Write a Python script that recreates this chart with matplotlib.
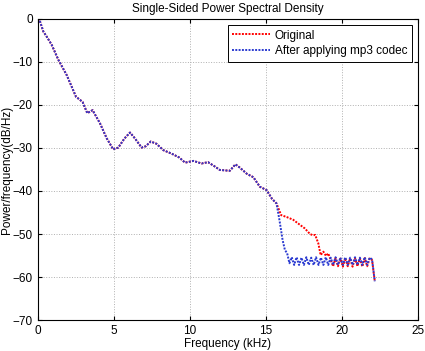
import matplotlib.pyplot as plt

# part of the curve where both spectra overlap (kHz, dB/Hz)
f_common = [0.0, 0.1, 0.37, 0.59, 0.92, 1.36, 1.9, 2.23, 2.52, 2.78, 2.95, 3.26, 3.61,
            4.1, 4.53, 4.96, 5.3, 5.7, 6.07, 6.4, 6.83, 7.1, 7.43, 7.8, 8.26, 8.8,
            9.3, 9.69, 10.24, 10.77, 11.2, 11.6, 11.97, 12.3, 12.63, 13.0, 13.3,
            13.75, 14.18, 14.6, 15.05, 15.4, 15.7]
p_common = [-1.0, 0.0, -2.9, -4.1, -6.0, -9.5, -13.0, -15.7, -18.1, -18.8, -19.3, -21.9, -21.2,
            -24.3, -27.7, -30.3, -29.9, -27.8, -26.4, -27.8, -29.9, -29.6, -28.5, -29.0, -30.5, -31.3,
            -32.2, -33.4, -33.0, -33.6, -33.3, -34.2, -35.1, -35.2, -35.3, -33.8, -34.6,
            -36.0, -36.8, -39.0, -39.8, -41.8, -42.9]

# original signal beyond 15.7 kHz
f_orig_tail = [16.0, 16.4, 16.8, 17.1, 17.56, 17.9, 18.1, 18.24, 18.45, 18.6, 18.78, 18.95,
               19.1, 19.26, 19.42, 19.58, 19.74, 19.90, 20.06, 20.22, 20.38, 20.54, 20.70,
               20.86, 21.02, 21.18, 21.34, 21.50, 21.66, 21.82, 21.98, 22.16]
p_orig_tail = [-45.6, -46.1, -46.7, -47.5, -48.7, -50.0, -50.3, -50.2, -52.2, -54.9, -54.1, -55.1,
               -54.5, -56.0, -57.5, -55.6, -57.5, -55.7, -57.6, -55.6, -57.5, -55.7, -57.6,
               -55.6, -57.5, -55.7, -57.6, -55.6, -57.5, -55.7, -56.0, -61.0]

# after mp3 codec beyond 15.7 kHz
f_mp3_tail = [15.89, 16.1, 16.25, 16.4, 16.55, 16.70, 16.86, 17.02, 17.18, 17.34, 17.50,
              17.66, 17.82, 17.98, 18.14, 18.30, 18.46, 18.62, 18.78, 18.94, 19.10, 19.26,
              19.42, 19.58, 19.74, 19.90, 20.06, 20.22, 20.38, 20.54, 20.70, 20.86, 21.02,
              21.18, 21.34, 21.50, 21.66, 21.82, 21.98, 22.16]
p_mp3_tail = [-46.7, -51.4, -53.7, -54.5, -56.8, -55.4, -57.2, -55.4, -57.2, -55.5, -57.2,
              -55.4, -57.2, -55.5, -57.2, -55.4, -57.2, -55.5, -57.2, -55.4, -57.2, -55.5,
              -57.2, -55.4, -57.2, -55.5, -57.2, -55.4, -57.2, -55.5, -57.2, -55.4, -57.2,
              -55.5, -57.2, -55.4, -57.2, -55.5, -55.9, -61.0]

f_orig = f_common + f_orig_tail
p_orig = p_common + p_orig_tail
f_mp3 = f_common + f_mp3_tail
p_mp3 = p_common + p_mp3_tail

plt.rcParams['font.family'] = ['Liberation Sans', 'DejaVu Sans']
fig = plt.figure(figsize=(4.25, 3.51), dpi=100)
ax = fig.add_axes([0.0887, 0.0883, 0.8948, 0.8576])

dots = (0, (1.0, 0.7))
ax.plot(f_orig, p_orig, color="red", linestyle=dots, linewidth=1.4, label="Original")
ax.plot(f_mp3, p_mp3, color="#2a3ad0", linestyle=dots, linewidth=1.4, label="After applying mp3 codec")

ax.set_xlim(0, 25)
ax.set_ylim(-70, 0)
ax.set_xticks(range(0, 26, 5))
ax.set_yticks(range(-70, 1, 10))
ax.tick_params(direction="in", labelsize=8.5, length=3, top=True, right=True, labeltop=False, labelright=False)
ax.grid(True, linestyle=":", color="#b0b0b0", linewidth=0.7)
ax.set_xlabel("Frequency (kHz)", fontsize=8.5, labelpad=1)
ax.set_ylabel("Power/frequency(dB/Hz)", fontsize=8.5, labelpad=0)
ax.set_title("Single-Sided Power Spectral Density", fontsize=8.5, pad=5)
leg = ax.legend(loc="upper right", fontsize=8.5, fancybox=False, edgecolor="black",
                framealpha=1, handlelength=3.2, handletextpad=0.4, borderaxespad=0.5,
                labelspacing=0.3)
leg.get_frame().set_linewidth(0.7)

fig.savefig("out.png", dpi=100)
